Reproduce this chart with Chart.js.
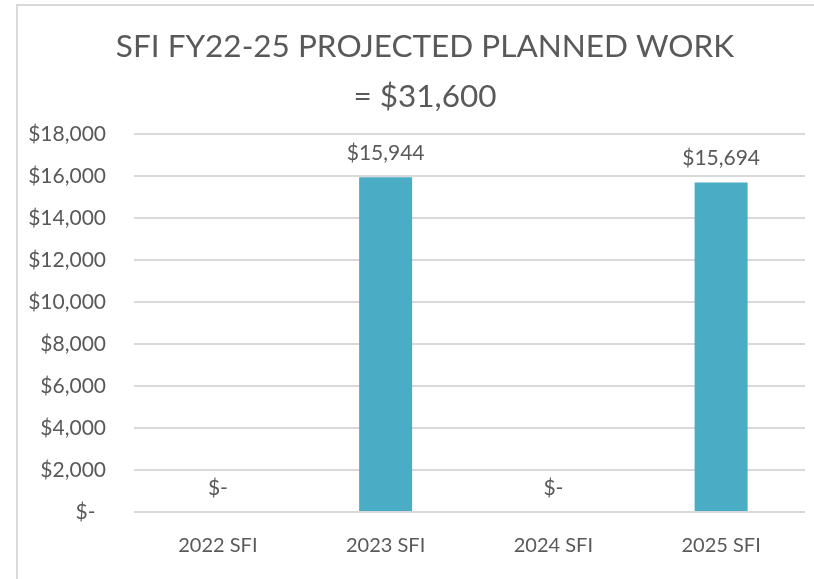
<!DOCTYPE html>
<html>
<head>
<meta charset="utf-8">
<script src="https://cdn.jsdelivr.net/npm/chart.js@4/dist/chart.umd.min.js"></script>
<style>
  html, body { margin: 0; padding: 0; background: #ffffff; }
  #wrap { position: relative; width: 814px; height: 579px; overflow: hidden; background: #fff; }
  #frame { position: absolute; left: 16px; top: 4px; width: 900px; height: 700px;
           border-left: 2px solid #D9D9D9; border-top: 2px solid #D9D9D9; box-sizing: border-box; }
  canvas { position: absolute; left: 0; top: 0; }
</style>
</head>
<body>
<div id="wrap">
  <div id="frame"></div>
  <canvas id="c" width="814" height="580"></canvas>
</div>
<script>
// ---- data ----
const titleLines = ["SFI FY22-25 PROJECTED PLANNED WORK", "= $31,600"];
const categories = ["2022 SFI", "2023 SFI", "2024 SFI", "2025 SFI"];
const plannedWork = [0, 15944, 0, 15694];
const yTickMin = 0;
const yTickMax = 18000;
const yTickStep = 2000;

function money(v) {
  return v === 0 ? "$-" : "$" + Number(v).toLocaleString("en-US");
}

const FONT = "Lato, 'Open Sans', sans-serif";
const TEXT = "#595959";

// Title drawn centred on the (cropped) chart frame
const frameTitle = {
  id: "frameTitle",
  afterDraw(chart) {
    const ctx = chart.ctx;
    ctx.save();
    ctx.font = "31.5px " + FONT;
    ctx.fillStyle = TEXT;
    ctx.textAlign = "center";
    ctx.textBaseline = "middle";
    ctx.fillText(titleLines[0], 425, 47);
    ctx.fillText(titleLines[1], 425, 97);
    ctx.restore();
  }
};

const barLabels = {
  id: "barLabels",
  afterDatasetsDraw(chart) {
    const ctx = chart.ctx;
    const meta = chart.getDatasetMeta(0);
    ctx.save();
    ctx.font = "21px " + FONT;
    ctx.fillStyle = TEXT;
    ctx.textAlign = "center";
    ctx.textBaseline = "middle";
    meta.data.forEach((bar, i) => {
      ctx.fillText(money(chart.data.datasets[0].data[i]), bar.x, bar.y - 24);
    });
    ctx.restore();
  }
};

new Chart(document.getElementById("c"), {
  type: "bar",
  data: {
    labels: categories,
    datasets: [{
      data: plannedWork,
      backgroundColor: "#4BACC6",
      borderWidth: 0,
      barPercentage: 0.316,
      categoryPercentage: 1.0
    }]
  },
  options: {
    responsive: false,
    animation: false,
    devicePixelRatio: 1,
    layout: { padding: { left: 0, right: 9, top: 134, bottom: 0 } },
    plugins: {
      legend: { display: false },
      tooltip: { enabled: false },
      title: { display: false }
    },
    scales: {
      x: {
        grid: { display: false, drawTicks: false },
        border: { display: false },
        ticks: { color: TEXT, font: { family: FONT, size: 20 }, padding: 22 }
      },
      y: {
        min: yTickMin,
        max: yTickMax,
        afterFit(scale) { scale.width = 134; },
        grid: { color: "#D9D9D9", lineWidth: 2, drawTicks: false },
        border: { display: false },
        ticks: {
          stepSize: yTickStep,
          color: TEXT,
          font: { family: FONT, size: 21 },
          padding: 28,
          callback: (v) => v === 0 ? "$-\u2002" : money(v)
        }
      }
    }
  },
  plugins: [barLabels, frameTitle]
});
</script>
</body>
</html>
